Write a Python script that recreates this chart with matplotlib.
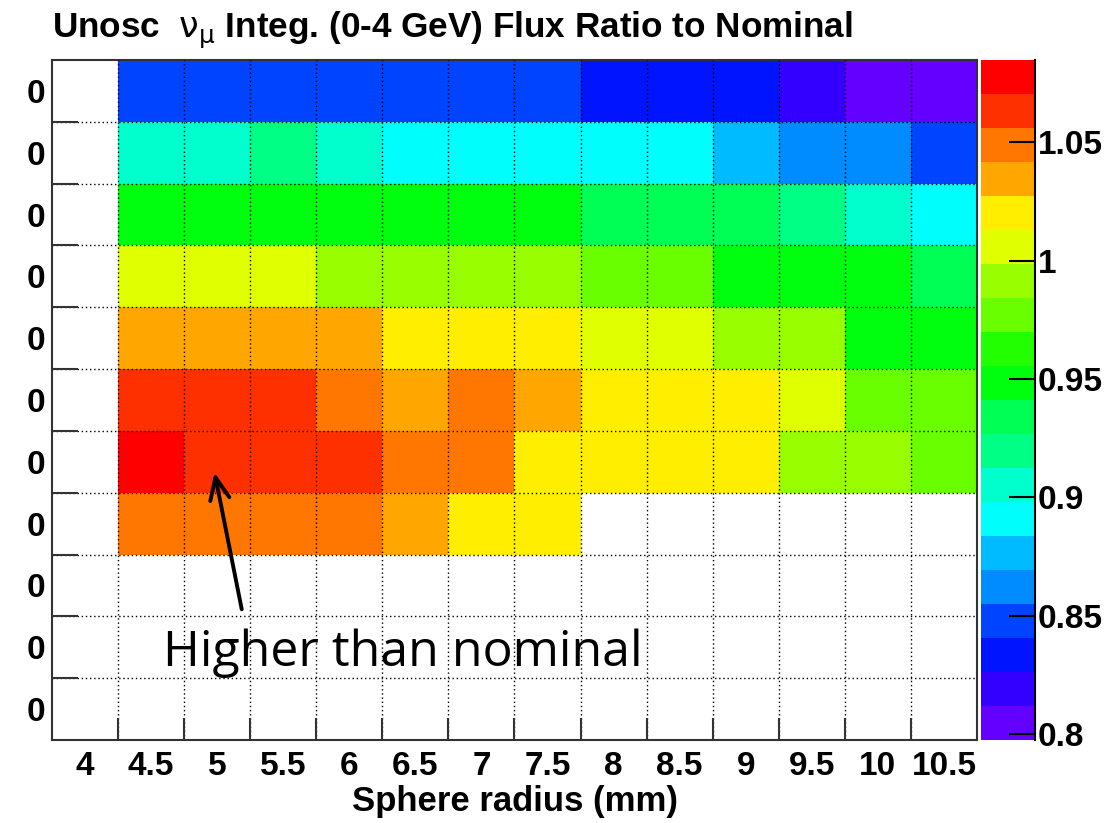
import colorsys
import numpy as np
import matplotlib
matplotlib.use('Agg')
import matplotlib.pyplot as plt
from matplotlib.colors import ListedColormap
from matplotlib.ticker import FormatStrFormatter

plt.rcParams['font.family'] = ['Liberation Sans', 'DejaVu Sans']
plt.rcParams['font.weight'] = 'bold'
plt.rcParams['mathtext.fontset'] = 'custom'
plt.rcParams['mathtext.rm'] = 'DejaVu Sans:normal'
plt.rcParams['mathtext.it'] = 'DejaVu Sans:normal'

# sphere radius bins (mm) and the second-axis bins (all printed as "0")
radius = [4, 4.5, 5, 5.5, 6, 6.5, 7, 7.5, 8, 8.5, 9, 9.5, 10, 10.5]
row_labels = ['0', '0', '0', '0', '0', '0', '0', '0', '0', '0', '0']

nan = np.nan
# integrated (0-4 GeV) flux ratio to nominal, top row first; nan = empty bin
ratio = np.array([
    [nan, 0.848, 0.848, 0.848, 0.848, 0.848, 0.848, 0.848, 0.833, 0.833, 0.833, 0.819, 0.802, 0.7975],
    [nan, 0.905, 0.905, 0.920, 0.905, 0.891, 0.891, 0.891, 0.891, 0.891, 0.877, 0.862, 0.862, 0.848],
    [nan, 0.948, 0.948, 0.948, 0.948, 0.948, 0.948, 0.948, 0.934, 0.934, 0.934, 0.920, 0.905, 0.891],
    [nan, 1.006, 1.006, 1.006, 0.991, 0.991, 0.991, 0.991, 0.977, 0.977, 0.948, 0.948, 0.948, 0.934],
    [nan, 1.034, 1.034, 1.034, 1.034, 1.020, 1.020, 1.020, 1.006, 1.006, 0.991, 0.991, 0.948, 0.948],
    [nan, 1.063, 1.063, 1.063, 1.049, 1.034, 1.049, 1.034, 1.020, 1.020, 1.020, 1.006, 0.977, 0.977],
    [nan, 1.0847, 1.063, 1.063, 1.063, 1.049, 1.049, 1.020, 1.020, 1.020, 1.020, 0.991, 0.991, 0.977],
    [nan, 1.049, 1.049, 1.049, 1.049, 1.034, 1.020, 1.020, nan, nan, nan, nan, nan, nan],
    [nan, nan, nan, nan, nan, nan, nan, nan, nan, nan, nan, nan, nan, nan],
    [nan, nan, nan, nan, nan, nan, nan, nan, nan, nan, nan, nan, nan, nan],
    [nan, nan, nan, nan, nan, nan, nan, nan, nan, nan, nan, nan, nan, nan],
])

cbar_ticks = [0.8, 0.85, 0.9, 0.95, 1.0, 1.05]

# 50 colour rainbow (violet -> red), 20 contour levels picked out of it
pretty = []
for i in range(50):
    hue = 280 - (i + 1) * 280 / 50
    pretty.append(colorsys.hls_to_rgb(hue / 360, 0.5, 1.0))
ncont = 20
levels = [pretty[int((k + 0.99) * 50 / ncont)] for k in range(ncont)]
cmap = ListedColormap(levels)

W, H = 1114, 823
fig = plt.figure(figsize=(W / 100, H / 100), dpi=100)
ax = fig.add_axes([52 / W, 1 - 740 / H, 925 / W, 680 / H])
cax = fig.add_axes([981 / W, 1 - 740 / H, 54 / W, 680 / H])

xe = np.append(np.array(radius) - 0.25, radius[-1] + 0.25)
ye = np.arange(len(row_labels) + 1)
mesh = ax.pcolormesh(xe, ye, np.ma.masked_invalid(ratio), cmap=cmap,
                     vmin=np.nanmin(ratio), vmax=np.nanmax(ratio))
ax.set_xlim(xe[0], xe[-1])
ax.set_ylim(ye[-1], ye[0])

ax.set_xticks(radius)
ax.xaxis.set_major_formatter(FormatStrFormatter('%g'))
ax.set_yticks(ye[:-1] + 0.5)
ax.set_yticklabels(row_labels)
ax.set_xticks(xe[1:-1], minor=True)
ax.set_yticks(ye[1:-1], minor=True)
ax.tick_params(which='major', length=0, labelsize=24)
ax.tick_params(axis='x', which='major', pad=8)
ax.tick_params(axis='y', which='major', pad=5)
ax.tick_params(axis='x', which='minor', direction='in', length=16, width=1.5, color='#333333')
ax.tick_params(axis='y', which='minor', direction='in', length=19, width=1.5, color='#333333')
ax.set_axisbelow(False)
ax.grid(which='minor', color='black', linestyle=(0, (1, 2)), linewidth=1.0)
for s in ax.spines.values():
    s.set_linewidth(1.5)
    s.set_color('#333333')

ax.set_xlabel('Sphere radius (mm)', fontsize=25, fontweight='bold', labelpad=2)

cb = fig.colorbar(mesh, cax=cax, ticks=cbar_ticks)
cb.outline.set_visible(False)
cax.plot([1, 1], [0, 1], transform=cax.transAxes, color='black', lw=1.5, clip_on=False)
cax.yaxis.set_major_formatter(FormatStrFormatter('%g'))
cax.tick_params(direction='in', length=19, width=1.5, labelsize=24, pad=2)
cax.minorticks_off()

fig.text(52 / W, 1 - 30 / H, r'Unosc  $\nu_{\mu}$ Integ. (0-4 GeV) Flux Ratio to Nominal',
         fontsize=25.3, va='center', ha='left')

ax.annotate('', xy=(4.976, 6.63), xytext=(5.19, 8.93),
            arrowprops=dict(arrowstyle='->,head_length=1.6,head_width=0.7', lw=2.8, color='black'))
ax.text(4.59, 9.8, 'Higher than nominal', family='Open Sans', fontweight='normal',
        fontsize=36, va='baseline', ha='left')

fig.savefig('out.png', dpi=100)
